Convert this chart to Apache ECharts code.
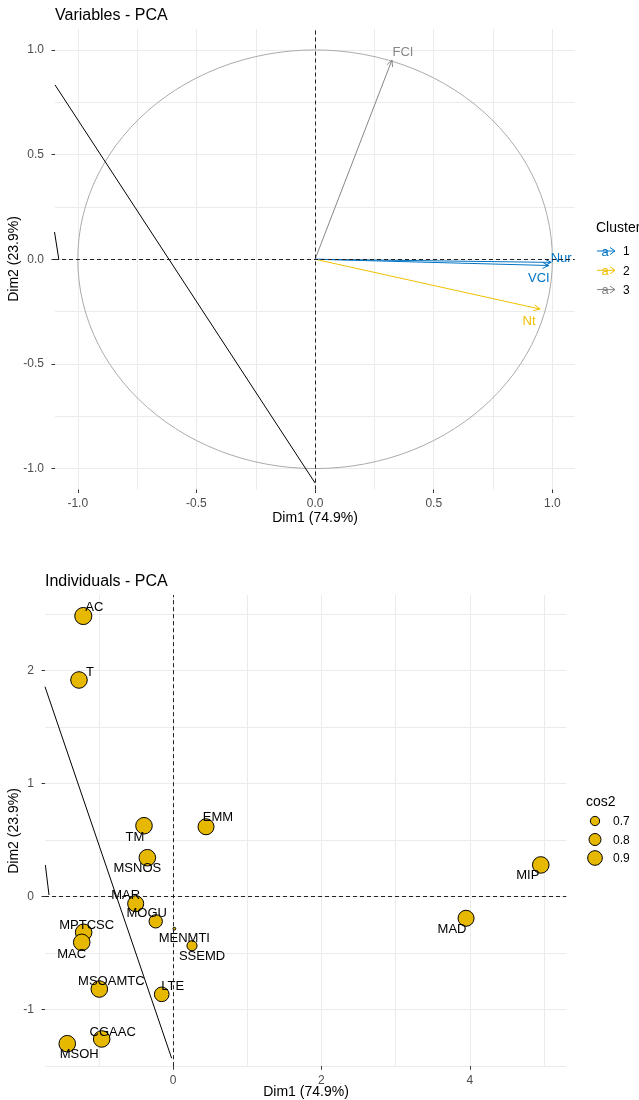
<!DOCTYPE html>
<html><head><meta charset="utf-8">
<script src="https://cdn.jsdelivr.net/npm/echarts@6/dist/echarts.min.js"></script>
<style>html,body{margin:0;padding:0;background:#fff}#c{width:639px;height:1100px}</style>
</head><body><div id="c"></div>
<script>
// ---------- Variables - PCA ----------
const varNames   = ['FCI', 'Nur', 'VCI', 'Nt'];
const varDim1    = [0.324, 0.995, 0.985, 0.948];
const varDim2    = [0.952, -0.015, -0.030, -0.238];
const varCluster = ['3', '1', '1', '2'];
const clusterLevels = ['1', '2', '3'];
const varTicks = [-1.0, -0.5, 0.0, 0.5, 1.0];
const varGridVals = [-1, -0.75, -0.5, -0.25, 0, 0.25, 0.5, 0.75, 1];
const varStrayA = [[-1.096, 0.833], [0, -1.069]];
const varStrayB = [[-1.098, 0.13], [-1.08, 0]];

// ---------- Individuals - PCA ----------
const indNames = ['AC','T','TM','EMM','MSNOS','MAR','MOGU','MENMTI','SSEMD','MPTCSC','MAC','MSOAMTC','LTE','CGAAC','MSOH','MIP','MAD'];
const indDim1  = [-1.209,-1.267,-0.391,0.445,-0.346,-0.503,-0.233,0.018,0.256,-1.204,-1.230,-0.993,-0.152,-0.961,-1.425,4.956,3.949];
const indDim2  = [2.484,1.918,0.628,0.619,0.345,-0.062,-0.218,-0.283,-0.434,-0.315,-0.404,-0.817,-0.864,-1.259,-1.301,0.281,-0.191];
const indCos2  = [0.99,0.97,0.97,0.95,0.97,0.95,0.85,0.46,0.73,0.97,0.97,0.97,0.90,0.97,0.97,0.97,0.95];
const cos2Legend = [0.7, 0.8, 0.9];
const indXTicks = [0, 2, 4];
const indYTicks = [-1, 0, 1, 2];
const indXGridVals = [-1, 0, 1, 2, 3, 4, 5];
const indYGridVals = [-1.5, -1, -0.5, 0, 0.5, 1, 1.5, 2, 2.5];
const indStrayA = [[-1.725, 1.858], [-0.018, -1.43]];
const indStrayB = [[-1.72, 0.28], [-1.671, 0.015]];

// ---------- styles ----------
const FONT = 'Liberation Sans, Arial, Helvetica, sans-serif';
const clusterColors = {'1': '#0073C2', '2': '#EFC000', '3': '#868686'};
const varLabelOffset = {FCI: [11, -8], Nur: [10, -4], VCI: [-10, 13], Nt: [-11, 12]};
const indLabelOffset = {
  AC:[11,-9], T:[11,-8], TM:[-9,12], EMM:[12,-9], MSNOS:[-10,11], MAR:[-10,-8], MOGU:[-9,-8],
  MENMTI:[10,10], SSEMD:[10,11], MPTCSC:[3,-7], MAC:[-10,12], MSOAMTC:[12,-8], LTE:[11,-8],
  CGAAC:[11,-7], MSOH:[12,11], MIP:[-13,10], MAD:[-14,11]
};
const sizeOf = c => 9.3 + (c - 0.7) * 27;
const fillInd = '#E7B800';

function gridAxis(gi, min, max, vals, pos) {
  return {gridIndex: gi, type: 'value', min: min, max: max, position: pos,
    axisLine: {show: false, onZero: false}, axisTick: {show: false, customValues: vals},
    axisLabel: {show: false},
    splitLine: {show: true, showMinLine: true, showMaxLine: true, lineStyle: {color: '#EBEBEB', width: 1}}};
}
function labelAxis(gi, min, max, vals, fmt, pos, margin) {
  return {gridIndex: gi, type: 'value', min: min, max: max, position: pos,
    axisLine: {show: false, onZero: false},
    axisTick: {show: true, customValues: vals, length: 3.5, lineStyle: {color: '#333', width: 1}},
    axisLabel: {customValues: vals, formatter: fmt, color: '#4D4D4D', fontSize: 12, fontFamily: FONT, margin: margin},
    splitLine: {show: false}};
}
const fmt1 = v => v.toFixed(1);
const fmt0 = v => String(Math.round(v));

const zeroMark = {
  silent: true, symbol: ['none', 'none'], label: {show: false},
  lineStyle: {color: '#222', width: 1, type: [4, 3]},
  data: [{xAxis: 0}, {yAxis: 0}], animation: false
};

const option = {
  animation: false,
  grid: [
    {left: 55, top: 29, width: 519.7, height: 460.5},
    {left: 45, top: 595, width: 521.3, height: 471.2}
  ],
  xAxis: [
    gridAxis(0, -1.096, 1.094, varGridVals, 'bottom'),
    labelAxis(0, -1.096, 1.094, varTicks, fmt1, 'bottom', 8),
    gridAxis(1, -1.725, 5.3, indXGridVals, 'bottom'),
    labelAxis(1, -1.725, 5.3, indXTicks, fmt0, 'bottom', 8)
  ],
  yAxis: [
    gridAxis(0, -1.1, 1.1, varGridVals, 'left'),
    labelAxis(0, -1.1, 1.1, varTicks, fmt1, 'left', 11),
    gridAxis(1, -1.5, 2.67, indYGridVals, 'left'),
    labelAxis(1, -1.5, 2.67, indYTicks, fmt0, 'left', 11)
  ],
  series: [
    {
      type: 'custom', xAxisIndex: 0, yAxisIndex: 0, data: [[0, 0]], silent: true, z: 2,
      renderItem: function (params, api) {
        const pts = [];
        for (let k = 0; k <= 120; k++) {
          const t = 2 * Math.PI * k / 120;
          pts.push(api.coord([api.value(0) + Math.cos(t), api.value(1) + Math.sin(t)]));
        }
        return {type: 'polyline', shape: {points: pts}, style: {stroke: '#AAAAAA', fill: null, lineWidth: 1}};
      },
      markLine: zeroMark
    },
    {type: 'line', xAxisIndex: 0, yAxisIndex: 0, data: varStrayA, symbol: 'none', silent: true, z: 3,
      lineStyle: {color: '#000', width: 1}},
    {type: 'line', xAxisIndex: 0, yAxisIndex: 0, data: varStrayB, symbol: 'none', silent: true, z: 3,
      lineStyle: {color: '#000', width: 1}},
    {
      type: 'custom', xAxisIndex: 0, yAxisIndex: 0, silent: true, z: 4,
      data: varNames.map((n, i) => [varDim1[i], varDim2[i]]),
      renderItem: function (params, api) {
        const i = params.dataIndex;
        const p0 = api.coord([0, 0]);
        const p1 = api.coord([api.value(0), api.value(1)]);
        const col = clusterColors[varCluster[i]];
        const ang = Math.atan2(p1[1] - p0[1], p1[0] - p0[0]);
        const L = 7, A = Math.PI / 7;
        const h1 = [p1[0] - L * Math.cos(ang - A), p1[1] - L * Math.sin(ang - A)];
        const h2 = [p1[0] - L * Math.cos(ang + A), p1[1] - L * Math.sin(ang + A)];
        const off = varLabelOffset[varNames[i]];
        return {type: 'group', children: [
          {type: 'line', shape: {x1: p0[0], y1: p0[1], x2: p1[0], y2: p1[1]}, style: {stroke: col, lineWidth: 1}},
          {type: 'polyline', shape: {points: [h1, p1, h2]}, style: {stroke: col, fill: null, lineWidth: 1}},
          {type: 'text', x: p1[0] + off[0], y: p1[1] + off[1],
            style: {text: varNames[i], fill: col, font: '13px ' + FONT, align: 'center', verticalAlign: 'middle'}}
        ]};
      }
    },
    // Individuals
    {type: 'line', xAxisIndex: 2, yAxisIndex: 2, data: indStrayA, symbol: 'none', silent: true, z: 3,
      lineStyle: {color: '#000', width: 1}, markLine: zeroMark},
    {type: 'line', xAxisIndex: 2, yAxisIndex: 2, data: indStrayB, symbol: 'none', silent: true, z: 3,
      lineStyle: {color: '#000', width: 1}},
    {
      type: 'scatter', xAxisIndex: 2, yAxisIndex: 2, silent: true, z: 4,
      data: indNames.map((n, i) => ({
        name: n, value: [indDim1[i], indDim2[i]],
        symbolSize: sizeOf(indCos2[i]),
        label: {offset: indLabelOffset[n]}
      })),
      itemStyle: {color: fillInd, borderColor: '#000', borderWidth: 1, opacity: 1},
      label: {show: true, position: 'inside', formatter: '{b}', color: '#000', fontSize: 13, fontFamily: FONT}
    }
  ],
  graphic: []
};

const G = option.graphic;
// titles
G.push({type: 'text', left: 55, top: 8, style: {text: 'Variables - PCA', fill: '#000', font: '16px ' + FONT}});
G.push({type: 'text', left: 45, top: 574, style: {text: 'Individuals - PCA', fill: '#000', font: '16px ' + FONT}});
// axis titles
G.push({type: 'text', x: 315, y: 518, style: {text: 'Dim1 (74.9%)', fill: '#000', font: '14px ' + FONT, align: 'center', verticalAlign: 'middle'}});
G.push({type: 'text', x: 306, y: 1092, style: {text: 'Dim1 (74.9%)', fill: '#000', font: '14px ' + FONT, align: 'center', verticalAlign: 'middle'}});
G.push({type: 'text', x: 14, y: 259, rotation: Math.PI / 2, style: {text: 'Dim2 (23.9%)', fill: '#000', font: '14px ' + FONT, align: 'center', verticalAlign: 'middle'}});
G.push({type: 'text', x: 14, y: 831, rotation: Math.PI / 2, style: {text: 'Dim2 (23.9%)', fill: '#000', font: '14px ' + FONT, align: 'center', verticalAlign: 'middle'}});
// Cluster legend
G.push({type: 'text', x: 596, y: 228, style: {text: 'Cluster', fill: '#000', font: '14px ' + FONT, verticalAlign: 'middle'}});
clusterLevels.forEach((lv, k) => {
  const y = 251 + k * 19.3;
  const col = clusterColors[lv];
  G.push({type: 'line', shape: {x1: 597, y1: y, x2: 615, y2: y}, style: {stroke: col, lineWidth: 1}});
  G.push({type: 'polyline', shape: {points: [[610, y - 3.5], [615, y], [610, y + 3.5]]}, style: {stroke: col, fill: null, lineWidth: 1}});
  G.push({type: 'text', x: 605, y: y + 1, style: {text: 'a', fill: col, font: '13px ' + FONT, align: 'center', verticalAlign: 'middle'}});
  G.push({type: 'text', x: 623, y: y + 1, style: {text: lv, fill: '#000', font: '12px ' + FONT, verticalAlign: 'middle'}});
});
// cos2 legend
G.push({type: 'text', x: 586, y: 802, style: {text: 'cos2', fill: '#000', font: '14px ' + FONT, verticalAlign: 'middle'}});
cos2Legend.forEach((c, k) => {
  const y = 821 + k * 18.5;
  G.push({type: 'circle', shape: {cx: 595, cy: y, r: sizeOf(c) / 2}, style: {fill: fillInd, stroke: '#000', lineWidth: 1}});
  G.push({type: 'text', x: 613, y: y + 1, style: {text: c.toFixed(1), fill: '#000', font: '12px ' + FONT, verticalAlign: 'middle'}});
});

const chart = echarts.init(document.getElementById('c'), null, {renderer: 'canvas'});
chart.setOption(option);
</script>
</body></html>
